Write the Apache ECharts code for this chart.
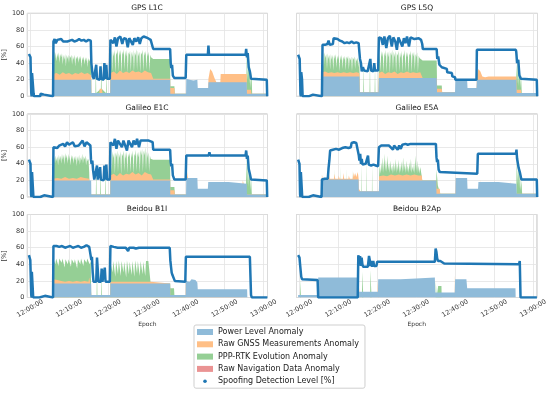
<!DOCTYPE html>
<html><head><meta charset="utf-8">
<script src="https://cdn.jsdelivr.net/npm/echarts@6/dist/echarts.min.js"></script>
<style>html,body{margin:0;padding:0;background:#fff}#c{width:550px;height:394px}</style>
</head><body><div id="c"></div>
<script>
// ---- data: [minute after 12:00:00, value %] ----
const titles = ['GPS L1C','GPS L5Q','Galileo E1C','Galileo E5A','Beidou B1I','Beidou B2Ap'];
const seriesNames = ['Power Level Anomaly','Raw GNSS Measurements Anomaly','PPP-RTK Evolution Anomaly','Raw Navigation Data Anomaly','Spoofing Detection Level [%]'];
const yTicks = [0,20,40,60,80,100];

// GPS L1C
const g1Line = [[-0.3,51],[0.1,47],[0.3,4],[0.4,0],[0.5,28],[0.75,29],[0.9,3],[1.0,0],[2.6,0],[2.7,3],[3.0,2],[3.6,2],[3.7,0],[5.9,0],[6.0,66],[6.3,69],[6.6,64],[7.0,68],[7.5,66],[8.0,69],[8.5,66],[9.0,68],[9.6,66],[10.2,67],[10.8,68],[11.4,66],[12.0,67],[12.6,69],[13.2,67],[13.8,68],[14.4,66],[15.0,68],[15.6,67],[15.75,40],[15.9,42],[16.1,24],[16.4,21],[16.8,20],[17.0,38],[17.2,21],[17.9,20],[18.1,36],[18.3,21],[18.9,20],[19.1,40],[19.3,21],[19.6,38],[19.8,21],[20.5,21],[20.65,68],[21.0,70],[21.4,64],[21.8,71],[22.2,60],[22.6,70],[23.2,72],[23.7,63],[24.1,70],[24.7,69],[25.1,59],[25.5,70],[26.0,71],[26.4,62],[26.8,70],[27.3,66],[27.8,71],[28.2,63],[28.6,70],[29.2,72],[29.7,70],[30.3,70],[31.0,68],[31.5,66],[31.65,57],[36.0,57],[36.15,40],[36.3,34],[36.5,38],[36.7,25],[37.1,22],[40.0,22],[40.15,50],[45.7,50],[45.85,61],[46.0,50],[55.4,50],[55.55,57],[55.75,47],[55.95,52],[56.2,35],[56.5,30],[56.8,21],[57.3,20],[60.85,20],[60.95,0]];
const g1Power = [[5.95,0],[6.0,20],[15.7,20],[15.75,4],[20.6,4],[20.65,20],[36.0,20],[36.05,3],[40.1,3],[40.15,21],[40.6,23],[41.0,20],[41.5,22],[42.0,19],[42.5,21],[43.0,20],[43.1,10],[45.8,10],[45.85,17],[55.7,17],[55.75,3],[60.9,3],[60.95,0]];
const g1Raw = [[5.95,0],[6.0,27],[6.8,28],[7.6,26],[8.4,29],[9.2,27],[10.0,28],[10.8,26],[11.6,28],[12.4,27],[13.2,29],[14.0,27],[14.8,28],[15.7,25],[15.75,4],[17.8,4],[17.9,9],[18.5,9],[18.6,4],[20.6,4],[20.65,28],[21.5,30],[22.3,27],[23.1,31],[23.9,28],[24.7,30],[25.5,28],[26.3,31],[27.1,29],[27.9,30],[28.7,28],[29.5,31],[30.3,29],[31.1,28],[31.6,27],[31.65,21],[36.0,21],[36.05,10],[37.1,10],[37.2,3],[45.8,3],[45.85,21],[46.3,33],[46.8,30],[47.4,22],[47.9,17],[48.9,17],[49.0,27],[55.7,27],[55.75,8],[56.8,8],[56.9,3],[60.9,3],[60.95,0]];
const g1Ppp = [[5.95,0],[6.0,50],[6.2,54],[6.4,45],[6.6,53],[6.8,42],[7.0,52],[7.2,46],[7.4,53],[7.6,40],[7.8,51],[8.0,47],[8.2,52],[8.4,38],[8.6,50],[8.8,44],[9.0,51],[9.2,36],[9.4,50],[9.6,45],[9.8,50],[10.0,40],[10.2,49],[10.4,46],[10.6,50],[10.8,38],[11.0,49],[11.2,44],[11.4,50],[11.6,36],[11.8,48],[12.0,45],[12.2,49],[12.4,40],[12.6,48],[12.8,44],[13.0,49],[13.2,34],[13.4,47],[13.6,43],[13.8,48],[14.0,38],[14.2,47],[14.4,42],[14.6,47],[14.8,35],[15.0,46],[15.2,42],[15.4,45],[15.6,40],[15.7,30],[15.75,4],[16.8,4],[16.9,38],[17.0,4],[18.2,9],[18.3,44],[18.4,9],[19.5,4],[19.6,33],[19.7,4],[20.6,4],[20.7,45],[20.9,55],[21.1,30],[21.3,54],[21.5,48],[21.7,56],[21.9,28],[22.1,53],[22.3,50],[22.5,57],[22.7,30],[22.9,55],[23.1,49],[23.3,56],[23.5,27],[23.7,54],[23.9,50],[24.1,57],[24.3,32],[24.5,55],[24.7,48],[24.9,56],[25.1,28],[25.3,53],[25.5,50],[25.7,55],[25.9,30],[26.1,54],[26.3,47],[26.5,56],[26.7,29],[26.9,53],[27.1,49],[27.3,57],[27.5,31],[27.7,55],[27.9,48],[28.1,54],[28.3,29],[28.5,53],[28.7,50],[28.9,56],[29.1,30],[29.3,54],[29.5,49],[29.7,55],[29.9,32],[30.1,52],[30.3,48],[30.5,54],[30.7,30],[30.9,50],[31.1,47],[31.4,49],[31.65,45],[36.0,45],[36.05,12],[37.1,12],[37.2,3],[55.5,3],[55.6,17],[55.7,50],[55.9,20],[56.1,55],[56.3,15],[56.5,45],[56.7,10],[56.9,30],[57.1,3],[60.9,3],[60.95,0]];

// GPS L5Q
const g2Line = [[-0.3,50],[0.1,45],[0.3,3],[0.4,0],[0.5,29],[0.7,20],[0.85,0],[2.4,0],[2.5,2],[3.5,2],[3.6,0],[5.8,0],[5.95,62],[6.6,62],[7.2,63],[7.5,67],[7.8,62],[8.6,63],[8.8,70],[9.2,71],[9.8,69],[10.4,67],[11.0,66],[11.6,64],[12.2,65],[12.8,64],[13.4,66],[14.0,64],[14.6,65],[15.2,64],[15.4,66],[15.55,45],[15.8,40],[16.0,30],[16.3,35],[16.6,31],[17.5,30],[18.0,31],[18.2,45],[18.4,31],[19.0,30],[19.2,40],[19.4,31],[20.2,31],[20.4,71],[21.0,70],[21.4,62],[21.8,72],[22.3,58],[22.7,70],[23.2,73],[23.7,60],[24.1,71],[24.6,66],[25.0,56],[25.4,71],[25.9,72],[26.4,60],[26.8,70],[27.2,64],[27.6,72],[28.1,60],[28.5,71],[29.0,73],[29.5,69],[30.0,71],[30.6,70],[31.2,68],[31.5,63],[31.65,57],[35.2,57],[35.35,45],[35.6,48],[35.9,38],[36.5,35],[37.8,33],[37.9,29],[39.1,28],[39.2,24],[39.9,23],[40.0,20],[45.4,20],[45.5,56],[55.5,56],[55.6,53],[55.8,40],[56.1,44],[56.4,25],[56.8,21],[57.3,20],[60.85,20],[60.95,0]];
const g2Power = [[5.9,0],[5.95,24],[15.4,24],[15.5,5],[20.3,5],[20.4,22],[35.2,22],[35.3,5],[39.9,5],[40.0,20],[43.0,20],[43.1,10],[45.4,10],[45.5,20],[55.6,20],[55.7,4],[60.9,4],[60.95,0]];
const g2Raw = [[5.9,0],[5.95,29],[6.6,30],[7.4,28],[8.2,29],[9.0,28],[9.8,29],[10.6,28],[11.4,29],[12.2,28],[13.0,29],[13.8,28],[14.6,29],[15.4,28],[15.5,5],[20.3,5],[20.4,28],[21.2,30],[22.0,27],[22.8,29],[23.6,28],[24.4,30],[25.2,27],[26.0,29],[26.8,28],[27.6,30],[28.4,28],[29.2,29],[30.0,28],[31.0,29],[31.5,27],[31.6,22],[35.2,22],[35.3,9],[36.5,9],[36.6,5],[45.4,5],[45.5,25],[45.9,33],[46.4,30],[46.9,24],[47.6,23],[48.5,24],[55.6,24],[55.7,8],[56.8,8],[56.9,4],[60.9,4],[60.95,0]];
const g2Ppp = [[5.9,0],[5.95,45],[6.1,52],[6.3,35],[6.5,53],[6.7,46],[6.9,51],[7.1,33],[7.3,52],[7.5,45],[7.7,50],[7.9,32],[8.1,51],[8.3,44],[8.5,50],[8.7,31],[8.9,50],[9.1,45],[9.3,51],[9.5,34],[9.7,49],[9.9,44],[10.1,50],[10.3,30],[10.5,49],[10.7,43],[10.9,50],[11.1,33],[11.3,48],[11.5,44],[11.7,49],[11.9,31],[12.1,48],[12.3,45],[12.5,49],[12.7,32],[12.9,47],[13.1,43],[13.3,48],[13.5,30],[13.7,47],[13.9,44],[14.1,48],[14.3,33],[14.5,46],[14.7,42],[14.9,47],[15.1,35],[15.3,45],[15.4,40],[15.5,5],[16.4,5],[16.5,38],[16.6,5],[18.0,5],[18.1,42],[18.2,5],[19.3,5],[19.4,36],[19.5,5],[20.3,5],[20.4,42],[20.6,53],[20.8,30],[21.0,55],[21.2,47],[21.4,54],[21.6,28],[21.8,53],[22.0,48],[22.2,56],[22.4,29],[22.6,54],[22.8,47],[23.0,55],[23.2,27],[23.4,53],[23.6,49],[23.8,56],[24.0,31],[24.2,54],[24.4,47],[24.6,55],[24.8,28],[25.0,52],[25.2,49],[25.4,55],[25.6,30],[25.8,53],[26.0,46],[26.2,55],[26.4,29],[26.6,52],[26.8,48],[27.0,56],[27.2,30],[27.4,54],[27.6,47],[27.8,53],[28.0,28],[28.2,52],[28.4,49],[28.6,55],[28.8,29],[29.0,53],[29.2,48],[29.4,54],[29.6,31],[29.8,51],[30.0,47],[30.2,53],[30.4,29],[30.6,49],[30.8,46],[31.0,48],[31.3,45],[31.6,43],[35.2,43],[35.3,13],[36.5,13],[36.6,5],[55.5,5],[55.6,40],[55.8,15],[56.0,52],[56.2,12],[56.4,45],[56.6,10],[56.8,28],[57.0,4],[60.9,4],[60.95,0]];

// Galileo E1C
const e1Line = [[-0.3,45],[0.1,40],[0.25,3],[0.35,0],[0.5,30],[0.7,29],[0.85,0],[2.6,0],[2.7,2],[3.6,2],[3.7,0],[5.9,0],[6.0,60],[6.5,61],[7.0,59],[7.5,62],[8.0,61],[8.5,64],[9.0,61],[9.5,66],[10.0,63],[10.5,62],[11.0,66],[11.5,61],[12.0,63],[12.5,62],[13.0,64],[13.5,68],[14.0,61],[14.5,66],[15.0,64],[15.5,62],[15.65,45],[15.8,40],[16.0,44],[16.2,32],[16.5,21],[17.0,20],[17.2,38],[17.4,21],[17.8,20],[18.0,36],[18.2,21],[18.9,20],[19.1,38],[19.3,21],[19.6,39],[19.8,21],[20.5,21],[20.65,66],[21.0,68],[21.4,62],[21.8,70],[22.2,58],[22.6,68],[23.1,70],[23.6,60],[24.0,68],[24.5,66],[24.9,56],[25.3,68],[25.8,69],[26.2,60],[26.6,68],[27.1,63],[27.5,70],[28.0,60],[28.4,68],[28.9,70],[29.4,68],[29.9,69],[30.5,68],[31.0,67],[31.5,66],[31.65,57],[36.0,57],[36.15,42],[36.3,37],[36.5,40],[36.7,26],[37.1,21],[40.0,21],[40.15,50],[45.9,50],[46.1,54],[46.3,50],[55.4,50],[55.55,56],[55.75,46],[55.95,50],[56.2,34],[56.5,28],[56.8,21],[57.3,20],[60.85,20],[60.95,0]];
const e1Power = [[5.95,0],[6.0,20],[15.7,20],[15.75,3],[20.6,3],[20.65,20],[36.0,20],[36.05,3],[40.1,3],[40.15,23],[43.0,23],[43.1,10],[45.7,10],[45.8,18],[51.0,18],[51.1,16],[55.7,16],[55.75,3],[60.9,3],[60.95,0]];
const e1Raw = [[5.95,0],[6.0,22],[7.0,23],[8.0,22],[9.0,24],[10.0,22],[11.0,23],[12.0,22],[13.0,24],[14.0,23],[15.2,22],[15.3,10],[15.6,10],[15.7,3],[20.6,3],[20.65,26],[21.5,28],[22.3,25],[23.1,29],[23.9,26],[24.7,28],[25.5,27],[26.3,30],[27.1,27],[27.9,29],[28.7,26],[29.5,30],[30.3,28],[31.1,27],[31.6,26],[31.65,21],[36.0,21],[36.05,8],[37.1,8],[37.2,3],[40.3,3],[40.35,23],[40.45,30],[40.6,23],[40.7,3],[54.5,3],[54.6,16],[54.7,20],[54.9,16],[55.0,3],[60.9,3],[60.95,0]];
const e1Ppp = [[5.95,0],[6.0,45],[6.2,48],[6.4,40],[6.6,50],[6.8,43],[7.0,49],[7.2,38],[7.4,51],[7.6,44],[7.8,50],[8.0,40],[8.2,52],[8.4,45],[8.6,51],[8.8,39],[9.0,53],[9.2,46],[9.4,51],[9.6,40],[9.8,52],[10.0,44],[10.2,50],[10.4,38],[10.6,51],[10.8,45],[11.0,50],[11.2,40],[11.4,49],[11.6,44],[11.8,50],[12.0,37],[12.2,49],[12.4,43],[12.6,51],[12.8,39],[13.0,48],[13.2,44],[13.4,52],[13.6,40],[13.8,49],[14.0,45],[14.2,50],[14.4,38],[14.6,47],[14.8,43],[15.0,46],[15.2,30],[15.3,10],[15.7,3],[16.9,3],[17.0,36],[17.1,3],[18.0,3],[18.1,40],[18.2,3],[19.3,3],[19.4,33],[19.5,3],[20.6,3],[20.65,40],[20.8,52],[21.0,30],[21.2,55],[21.4,47],[21.6,53],[21.8,28],[22.0,54],[22.2,48],[22.4,56],[22.6,30],[22.8,53],[23.0,47],[23.2,55],[23.4,27],[23.6,52],[23.8,49],[24.0,56],[24.2,31],[24.4,54],[24.6,46],[24.8,55],[25.0,29],[25.2,52],[25.4,48],[25.6,54],[25.8,30],[26.0,53],[26.2,47],[26.4,56],[26.6,28],[26.8,52],[27.0,49],[27.2,57],[27.4,31],[27.6,54],[27.8,48],[28.0,55],[28.2,29],[28.4,57],[28.6,50],[28.8,58],[29.0,30],[29.2,56],[29.4,50],[29.6,60],[29.8,32],[30.0,55],[30.2,47],[30.4,54],[30.6,30],[30.8,50],[31.0,46],[31.3,47],[31.65,45],[36.0,45],[36.05,12],[37.1,12],[37.2,3],[55.5,3],[55.6,48],[55.8,15],[56.0,56],[56.2,12],[56.4,40],[56.6,8],[56.8,25],[57.0,3],[60.9,3],[60.95,0]];

// Galileo E5A
const e5Line = [[-0.3,45],[0.05,40],[0.2,3],[0.3,0],[0.4,30],[0.6,28],[0.75,0],[2.4,0],[2.5,2],[3.5,2],[3.6,0],[5.7,0],[5.8,21],[6.5,22],[7.3,22],[7.5,35],[7.7,44],[7.9,56],[8.6,57],[9.4,58],[10.2,57],[11.0,59],[11.8,60],[12.6,59],[13.2,60],[13.4,65],[14.0,66],[14.6,65],[15.1,66],[15.25,50],[15.4,44],[15.6,52],[15.8,40],[16.0,46],[16.2,39],[16.6,38],[17.0,40],[17.4,38],[17.6,50],[17.8,39],[18.4,38],[19.0,39],[19.6,38],[20.2,37],[20.4,60],[21.0,62],[21.5,63],[22.0,62],[22.5,64],[23.0,62],[23.5,61],[24.0,57],[24.3,62],[24.8,60],[25.2,57],[25.6,62],[26.0,58],[26.4,63],[26.8,61],[27.2,64],[27.8,63],[28.5,64],[29.5,64],[30.5,64],[31.5,64],[32.5,64],[33.5,64],[35.0,64],[35.15,48],[35.3,42],[35.5,45],[35.7,33],[36.0,30],[36.5,29],[45.6,28],[45.75,52],[55.5,52],[55.65,57],[55.8,46],[56.0,48],[56.2,35],[56.5,30],[56.9,21],[57.3,21],[60.85,21],[60.95,0]];
const e5Power = [[5.75,0],[5.8,21],[15.2,21],[15.25,7],[20.4,7],[20.45,20],[35.1,20],[35.15,4],[40.0,4],[40.05,23],[43.0,23],[43.1,10],[45.8,10],[45.9,18],[51.0,18],[51.1,16],[55.6,16],[55.7,4],[60.9,4],[60.95,0]];
const e5Raw = [[5.75,0],[5.8,27],[6.0,21],[7.5,21],[7.6,28],[7.8,22],[8.9,22],[9.0,28],[9.2,22],[10.0,22],[10.1,26],[10.3,22],[11.2,22],[11.3,29],[11.5,22],[12.6,22],[12.7,26],[12.9,22],[13.7,22],[13.8,30],[14.0,24],[14.3,29],[14.6,24],[15.0,30],[15.2,22],[15.25,10],[15.6,10],[15.65,7],[20.4,7],[20.45,25],[21.5,26],[22.5,25],[23.5,27],[24.5,26],[25.5,27],[26.5,26],[27.5,27],[28.5,26],[29.5,27],[30.5,26],[31.4,26],[31.5,20],[35.1,20],[35.15,10],[36.0,10],[36.1,4],[40.0,4],[40.05,26],[40.15,4],[46.4,4],[46.45,21],[46.6,4],[54.1,4],[54.2,19],[54.4,4],[60.9,4],[60.95,0]];
const e5Ppp = [[7.5,0],[7.55,32],[7.65,0],[9.0,0],[9.05,35],[9.15,0],[10.5,0],[10.55,37],[10.65,0],[12.0,0],[12.05,35],[12.15,0],[13.5,0],[13.55,33],[13.65,0],[15.9,0],[15.95,40],[16.05,0],[17.2,0],[17.25,45],[17.35,0],[18.6,0],[18.65,38],[18.75,0],[20.4,0],[20.45,26],[20.6,38],[20.8,28],[21.0,42],[21.2,30],[21.4,48],[21.6,29],[21.8,52],[22.0,31],[22.2,45],[22.4,30],[22.6,50],[22.8,32],[23.0,41],[23.2,29],[23.4,44],[23.6,31],[23.8,38],[24.0,28],[24.2,42],[24.4,30],[24.6,46],[24.8,29],[25.0,40],[25.2,31],[25.4,45],[25.6,28],[25.8,39],[26.0,30],[26.2,43],[26.4,29],[26.6,48],[26.8,31],[27.0,40],[27.2,29],[27.4,44],[27.6,30],[27.8,38],[28.0,29],[28.2,42],[28.4,31],[28.6,46],[28.8,29],[29.0,37],[29.2,30],[29.4,41],[29.6,28],[29.8,50],[30.0,30],[30.2,44],[30.4,29],[30.6,38],[30.8,28],[31.0,36],[31.3,27],[31.5,20],[35.1,20],[35.15,33],[35.4,33],[35.5,14],[36.0,14],[36.1,4],[55.6,4],[55.7,45],[55.9,15],[56.1,50],[56.3,10],[56.5,35],[56.7,8],[56.9,20],[57.1,4],[60.9,4],[60.95,0]];

// Beidou B1I
const b1Line = [[-0.3,51],[0.05,45],[0.2,20],[0.3,3],[0.4,0],[0.45,31],[0.65,30],[0.8,0],[2.4,0],[2.5,2],[3.8,2],[3.9,0],[5.9,0],[6.0,62],[6.8,62],[7.5,61],[8.2,62],[9.0,60],[9.6,61],[10.3,62],[11.0,60],[11.7,61],[12.4,62],[13.1,60],[13.8,61],[14.5,63],[15.2,61],[15.6,61],[15.75,45],[15.9,49],[16.1,30],[16.3,19],[17.0,19],[17.2,48],[17.4,49],[17.6,19],[18.2,19],[18.4,35],[18.6,19],[19.0,19],[19.2,36],[19.4,19],[20.5,19],[20.65,62],[21.5,61],[22.5,60],[23.0,58],[23.5,60],[24.0,58],[24.6,60],[25.2,56],[25.5,60],[26.0,58],[26.6,60],[27.2,59],[28.0,60],[29.0,60],[30.0,60],[31.0,60],[32.0,60],[33.0,60],[34.0,60],[35.9,60],[36.05,45],[36.2,38],[36.4,30],[36.6,27],[37.2,20],[39.9,19],[40.05,49],[56.5,49],[56.8,3],[57.0,0],[61.0,0]];
const b1Power = [[5.95,0],[6.0,17],[15.7,17],[15.75,3],[20.6,3],[20.65,17],[36.0,17],[36.05,3],[40.0,3],[40.05,20],[40.5,22],[41.0,19],[41.5,22],[42.0,20],[42.5,21],[43.0,18],[43.1,10],[55.8,10],[55.85,0]];
const b1Raw = [[5.95,0],[6.0,22],[6.5,23],[7.0,21],[7.5,22],[8.0,20],[9.0,19],[10.0,20],[11.0,19],[12.0,20],[13.0,19],[14.0,20],[15.0,19],[15.2,24],[15.4,19],[15.7,18],[15.75,3],[20.6,3],[20.65,19],[31.0,19],[31.05,17],[36.0,17],[36.05,3],[40.0,3],[40.05,24],[40.2,20],[40.3,3],[55.85,0]];
const b1Ppp = [[5.95,0],[6.0,46],[6.3,47],[6.5,40],[6.7,47],[7.0,46],[7.3,38],[7.5,47],[7.8,46],[8.1,42],[8.3,47],[8.6,45],[8.9,36],[9.1,46],[9.4,45],[9.7,40],[9.9,46],[10.2,44],[10.5,37],[10.7,46],[11.0,45],[11.3,41],[11.5,46],[11.8,44],[12.1,35],[12.3,46],[12.6,45],[12.9,40],[13.1,47],[13.4,45],[13.7,38],[13.9,46],[14.2,48],[14.5,42],[14.7,47],[15.0,45],[15.3,40],[15.6,44],[15.7,3],[17.1,3],[17.2,40],[17.3,3],[18.3,3],[18.4,30],[18.5,3],[20.6,3],[20.65,43],[21.0,45],[21.2,30],[21.4,44],[21.7,45],[21.9,25],[22.1,44],[22.4,43],[22.6,28],[22.8,45],[23.1,44],[23.3,26],[23.5,44],[23.8,45],[24.0,30],[24.2,43],[24.5,44],[24.7,24],[24.9,45],[25.2,44],[25.4,28],[25.6,43],[25.9,45],[26.1,27],[26.3,44],[26.6,43],[26.8,25],[27.0,45],[27.3,44],[27.5,29],[27.7,44],[28.0,43],[28.2,26],[28.4,44],[28.7,45],[28.9,28],[29.1,43],[29.4,44],[29.6,26],[29.8,44],[30.1,43],[30.4,44],[30.8,44],[31.0,17],[36.0,17],[36.05,11],[37.0,11],[37.1,3],[40.0,3],[40.05,0]];

// Beidou B2Ap
const b2Line = [[-0.3,51],[0.05,48],[0.2,40],[0.35,42],[0.5,25],[0.7,22],[1.0,21],[4.7,21],[4.85,0],[15.0,0],[15.15,51],[15.4,45],[15.6,50],[15.8,38],[16.0,48],[16.2,40],[16.4,37],[16.8,38],[17.0,37],[17.3,36],[17.6,37],[17.9,50],[18.1,45],[18.3,38],[18.5,44],[18.7,37],[19.0,44],[19.2,38],[19.5,37],[19.8,38],[20.0,43],[25.0,43],[30.0,43],[34.8,43],[35.0,59],[35.2,55],[35.4,47],[35.6,44],[36.2,44],[36.5,42],[37.2,41],[37.5,40],[56.4,40],[56.6,44],[56.8,0],[61.0,0]];
const b2Power = [[-0.3,3],[4.8,3],[4.85,24],[15.0,24],[15.05,7],[20.2,7],[20.25,22],[26.0,22],[26.1,23],[30.0,23],[30.1,24],[34.8,24],[34.9,6],[39.9,6],[40.0,22],[42.9,22],[43.0,21],[43.1,11],[55.5,11],[55.55,0]];
const b2Raw = [[15.4,0],[15.45,12],[15.6,12],[15.65,0],[20.1,0],[20.15,19],[20.3,19],[20.35,0],[39.9,0],[39.95,27],[40.1,27],[40.15,0]];
const b2Ppp = [[0.2,0],[0.25,21],[0.4,21],[0.45,0],[16.1,0],[16.15,31],[16.4,31],[16.45,0],[18.2,0],[18.25,33],[18.5,33],[18.55,0],[35.0,0],[35.05,20],[35.2,20],[35.25,0],[35.6,0],[35.65,14],[36.5,14],[36.55,0]];

// Raw navigation data anomaly (no visible contribution)
const navZero = [[-0.5,0],[61.0,0]];

// ---- build ----
const T0 = new Date(2024,0,1,12,0,0).getTime();
const toT = a => a.map(p => [T0 + p[0]*60000, p[1]]);
const plotData = [
  [g1Line,g1Power,g1Raw,g1Ppp],[g2Line,g2Power,g2Raw,g2Ppp],
  [e1Line,e1Power,e1Raw,e1Ppp],[e5Line,e5Power,e5Raw,e5Ppp],
  [b1Line,b1Power,b1Raw,b1Ppp],[b2Line,b2Power,b2Raw,b2Ppp]
];
const colors = {power:'#8fbbd9', raw:'#ffbf86', ppp:'#95cf95', nav:'#ea9393', line:'#1f77b4'};
const FONT = 'DejaVu Sans';
const colLeft = [26.5, 296.5], rowTop = [13.3, 114, 214.5], GW = 241, GH = 83;
const grids = [], xAxes = [], yAxes = [], series = [], titleOpts = [];
for (let i = 0; i < 6; i++) {
  const c = i % 2, r = Math.floor(i / 2);
  grids.push({left: colLeft[c], top: rowTop[r], width: GW, height: GH, show: true, borderColor: '#b8b8b8', borderWidth: 1, backgroundColor: '#fff'});
  titleOpts.push({text: titles[i], left: colLeft[c] + GW/2, top: rowTop[r] - 9.5, textAlign: 'center', padding: 0,
    textStyle: {fontSize: 7.5, fontWeight: 'normal', color: '#111', fontFamily: FONT}});
  xAxes.push({type: 'time', gridIndex: i, min: T0 - 43000, max: T0 + 3662000,
    minInterval: 660000, maxInterval: 660000,
    axisLine: {show: false}, axisTick: {show: false},
    splitLine: {show: true, lineStyle: {color: '#e3e3e3', width: 0.8}},
    axisLabel: {show: r === 2, formatter: '{HH}:{mm}:{ss}', rotate: 30, align: 'center', verticalAlign: 'middle', margin: 11,
      fontSize: 6.5, color: '#333', fontFamily: FONT, hideOverlap: false, showMinLabel: false, showMaxLabel: false},
    name: r === 2 ? 'Epoch' : '', nameLocation: 'middle', nameGap: 24,
    nameTextStyle: {fontSize: 6, color: '#333', fontFamily: FONT}});
  yAxes.push({type: 'value', gridIndex: i, min: yTicks[0], max: yTicks[yTicks.length-1], interval: 20,
    axisLine: {show: false}, axisTick: {show: false},
    splitLine: {show: true, lineStyle: {color: '#e3e3e3', width: 0.8}},
    axisLabel: {show: c === 0, fontSize: 6.5, color: '#333', margin: 3, fontFamily: FONT},
    name: c === 0 ? '[%]' : '', nameLocation: 'middle', nameGap: 16, nameRotate: 90,
    nameTextStyle: {fontSize: 6.5, color: '#333', fontFamily: FONT}});
  const [ln, pw, rw, pp] = plotData[i];
  const area = (name, data, color) => ({name, type: 'line', xAxisIndex: i, yAxisIndex: i, data: toT(data),
    symbol: 'none', lineStyle: {width: 0}, areaStyle: {color, opacity: 1}, itemStyle: {color}, z: 2});
  series.push(area(seriesNames[2], pp, colors.ppp));
  series.push(area(seriesNames[1], rw, colors.raw));
  series.push(area(seriesNames[0], pw, colors.power));
  if (i === 0) series.push(area(seriesNames[3], navZero, colors.nav));
  series.push({name: seriesNames[4], type: 'line', xAxisIndex: i, yAxisIndex: i, data: toT(ln),
    symbol: 'none', lineStyle: {width: 2.5, color: colors.line}, itemStyle: {color: colors.line}, z: 3});
}
const chart = echarts.init(document.getElementById('c'), null, {renderer: 'canvas'});
chart.setOption({
  animation: false,
  textStyle: {fontFamily: FONT},
  title: titleOpts,
  grid: grids, xAxis: xAxes, yAxis: yAxes, series,
  legend: {orient: 'vertical', left: 194, top: 325, padding: [3, 6, 3, 3], itemGap: 4.3,
    itemWidth: 16, itemHeight: 6, borderColor: '#cfcfcf', borderWidth: 1, borderRadius: 2,
    textStyle: {fontSize: 8, color: '#222', fontFamily: FONT},
    data: [
      {name: seriesNames[0], icon: 'rect'},
      {name: seriesNames[1], icon: 'rect'},
      {name: seriesNames[2], icon: 'rect'},
      {name: seriesNames[3], icon: 'rect'},
      {name: seriesNames[4], icon: 'path://M0,0M10,10M2,5A3,3,0,1,1,8,5A3,3,0,1,1,2,5Z'}
    ]}
});
</script></body></html>
